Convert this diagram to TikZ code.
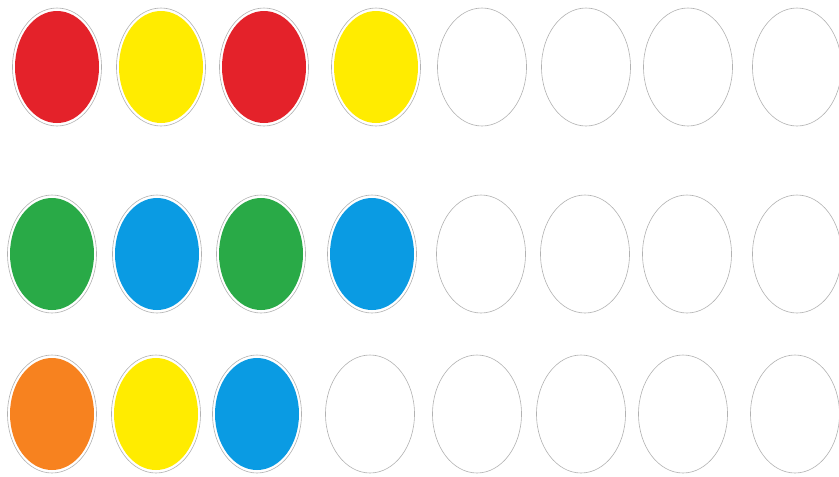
\documentclass[tikz,border=0pt]{standalone}
\usetikzlibrary{shapes.geometric}
\definecolor{eggred}{HTML}{E4222A}
\definecolor{eggyellow}{HTML}{FFEC00}
\definecolor{egggreen}{HTML}{29AA47}
\definecolor{eggblue}{HTML}{0A9BE3}
\definecolor{eggorange}{HTML}{F7821F}
\begin{document}
\begin{tikzpicture}[x=1pt, y=-1pt,
    egg/.style={ellipse, draw=black!30, line width=0.6pt, minimum width=89pt,
      minimum height=118pt, inner sep=0pt, fill=white},
    paint/.style={path picture={\fill[#1] (path picture bounding box.center)
      ellipse (42pt and 56pt);}}]
  \useasboundingbox (0,0) rectangle (839,477);
  % top row
  \foreach \cx/\col [count=\i] in {57/eggred, 161/eggyellow, 264/eggred, 376/eggyellow,
      482/white, 586/white, 688/white, 797/white}
    \node[egg, paint=\col] (top\i) at (\cx,67) {};
  % middle row
  \foreach \cx/\col [count=\i] in {52/egggreen, 157/eggblue, 261/egggreen, 372/eggblue,
      481/white, 585/white, 687/white, 797/white}
    \node[egg, paint=\col] (mid\i) at (\cx,254) {};
  % bottom row
  \foreach \cx/\col [count=\i] in {52/eggorange, 156/eggyellow, 257/eggblue, 370/white,
      477/white, 581/white, 683/white, 795/white}
    \node[egg, paint=\col] (bot\i) at (\cx,414) {};
\end{tikzpicture}
\end{document}
